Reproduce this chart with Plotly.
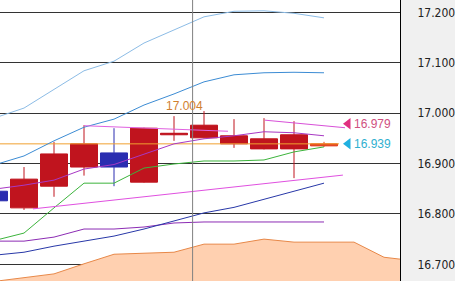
import plotly.graph_objects as go

# ---- data ----
idx = list(range(12))
opens = [16.845, 16.812, 16.855, 16.893, 16.921, 16.863, 16.957, 16.951, 16.939, 16.929, 16.929, 16.935]
highs = [16.850, 16.893, 16.943, 16.976, 16.970, 16.971, 16.994, 17.004, 16.988, 16.990, 16.984, 16.943]
lows = [16.820, 16.808, 16.834, 16.876, 16.855, 16.862, 16.945, 16.950, 16.931, 16.928, 16.871, 16.933]
closes = [16.826, 16.869, 16.919, 16.939, 16.893, 16.970, 16.960, 16.976, 16.955, 16.949, 16.957, 16.939]

bb_up2 = [16.990, 17.010, 17.047, 17.084, 17.103, 17.139, 17.165, 17.191, 17.202, 17.203, 17.198, 17.189]
bb_up1 = [16.897, 16.915, 16.945, 16.972, 16.988, 17.016, 17.038, 17.062, 17.076, 17.080, 17.081, 17.080]
ma_mid = [16.849, 16.857, 16.867, 16.889, 16.898, 16.919, 16.939, 16.949, 16.955, 16.963, 16.961, 16.955]
green_line = [16.747, 16.762, 16.812, 16.861, 16.861, 16.891, 16.899, 16.905, 16.905, 16.907, 16.923, 16.933]
navy_line = [16.718, 16.724, 16.736, 16.746, 16.756, 16.770, 16.786, 16.802, 16.813, 16.829, 16.844, 16.861]
purple_low = [16.746, 16.746, 16.754, 16.770, 16.770, 16.774, 16.782, 16.784, 16.784, 16.784, 16.784, 16.784]

cloud_x = list(range(15))
cloud = [16.666, 16.674, 16.681, 16.701, 16.720, 16.722, 16.724, 16.740, 16.740,
         16.750, 16.744, 16.744, 16.744, 16.714, 16.707]

trend1_x = [3, 7.8]
trend1_y = [16.975, 16.964]
trend2_x = [9.03, 11.7]
trend2_y = [16.986, 16.971]
trend3_x = [1.3, 11.63]
trend3_y = [16.810, 16.877]

high_label = 17.004
pink_level = 16.979
cyan_level = 16.939

tick_vals = [16.7, 16.8, 16.9, 17.0, 17.1, 17.2]
tick_text = ["16.700", "16.800", "16.900", "17.000", "17.100", "17.200"]

RED = "#c0141e"
BLUE = "#2a2db0"
LAST = "#e23c1a"

fig = go.Figure()

# cloud
fig.add_trace(go.Scatter(x=cloud_x, y=cloud, mode="lines", fill="tozeroy",
                         fillcolor="#ffd0b0", line=dict(color="#e88848", width=1)))
# current price line
fig.add_trace(go.Scatter(x=[idx[0] - 1, idx[-1] + 0.5], y=[closes[-1], closes[-1]],
                         mode="lines", line=dict(color="#f0a030", width=1)))

# candles
n = len(idx) - 1
fig.add_trace(go.Candlestick(
    x=idx[:n], open=opens[:n], high=highs[:n], low=lows[:n], close=closes[:n],
    increasing=dict(line=dict(color=RED, width=1), fillcolor=RED),
    decreasing=dict(line=dict(color=BLUE, width=1), fillcolor=BLUE),
    whiskerwidth=0, hoverinfo="skip"))
fig.add_trace(go.Candlestick(
    x=idx[n:], open=opens[n:], high=highs[n:], low=lows[n:], close=closes[n:],
    increasing=dict(line=dict(color=LAST, width=1), fillcolor=LAST),
    decreasing=dict(line=dict(color=LAST, width=1), fillcolor=LAST),
    whiskerwidth=0, hoverinfo="skip"))

def line(x, y, color):
    fig.add_trace(go.Scatter(x=x, y=y, mode="lines", line=dict(color=color, width=1)))

line(idx, purple_low, "#8c2cb4")
line(idx, navy_line, "#2838a8")
line(idx, green_line, "#3cb43c")
line(idx, ma_mid, "#a838c4")
line(idx, bb_up1, "#3c8cd4")
line(idx, bb_up2, "#8cbce6")
line(trend1_x, trend1_y, "#e060e0")
line(trend2_x, trend2_y, "#d850d8")
line(trend3_x, trend3_y, "#e050e0")

# price markers
mark_x = idx[-1] + 0.8
fig.add_trace(go.Scatter(x=[mark_x], y=[pink_level], mode="markers",
                         marker=dict(symbol="triangle-left", size=10, color="#e03080")))
fig.add_trace(go.Scatter(x=[mark_x], y=[cyan_level], mode="markers",
                         marker=dict(symbol="triangle-left", size=10, color="#20b0e0")))

fig.add_annotation(x=idx[-1] + 0.93, y=pink_level, text=f"{pink_level:.3f}", showarrow=False,
                   xanchor="left", yanchor="middle", font=dict(family="Liberation Sans, Arial, sans-serif", size=12, color="#d05080"))
fig.add_annotation(x=idx[-1] + 0.93, y=cyan_level, text=f"{cyan_level:.3f}", showarrow=False,
                   xanchor="left", yanchor="middle", font=dict(family="Liberation Sans, Arial, sans-serif", size=12, color="#30b0d0"))
hi_i = highs.index(max(highs))
fig.add_annotation(x=idx[hi_i], y=high_label, text=f"{high_label:.3f}", showarrow=False,
                   xanchor="right", yanchor="bottom", xshift=1, yshift=-4,
                   font=dict(family="Liberation Sans, Arial, sans-serif", size=12, color="#d08030"))

# vertical separator
fig.add_shape(type="line", xref="x", yref="paper", x0=6.62, x1=6.62, y0=0, y1=1,
              line=dict(color="#808080", width=1), layer="above")

fig.update_layout(
    width=455, height=281,
    margin=dict(l=0, r=55, t=0, b=0),
    paper_bgcolor="#f0f0f0", plot_bgcolor="#ffffff",
    showlegend=False, boxgap=0.1, boxgroupgap=0,
    xaxis=dict(range=[0.2, 13.533], visible=False, rangeslider=dict(visible=False),
               showgrid=False, zeroline=False),
    yaxis=dict(range=[16.6669, 17.2244], side="right", tickvals=tick_vals, ticktext=tick_text,
               showgrid=True, gridcolor="#333333", gridwidth=1, zeroline=False,
               showline=True, linecolor="#000000", linewidth=1, ticks="",
               ticklabelstandoff=14,
               tickfont=dict(family="Liberation Sans Narrow, DejaVu Sans Condensed, sans-serif",
                             size=12, color="#222222")),
)

fig.write_html("out.html")
